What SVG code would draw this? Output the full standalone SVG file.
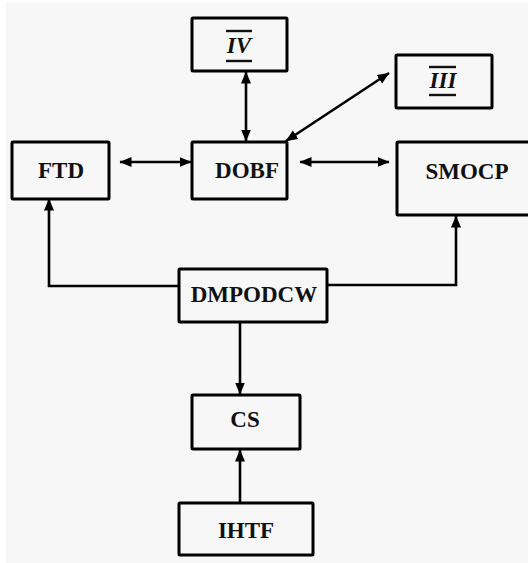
<svg xmlns="http://www.w3.org/2000/svg" width="528" height="563" viewBox="0 0 528 563">
  <style>
    .box { fill: none; stroke: #000; stroke-width: 3; }
    .lbl { font-family: "Liberation Serif", "Times New Roman", serif; font-weight: bold; font-size: 23px; fill: #111; text-anchor: middle; }
    .ital { font-style: italic; }
    .bar { stroke: #111; stroke-width: 2.4; }
    .conn { fill: none; stroke: #000; stroke-width: 2.6; }
  </style>
  <defs>
    <marker id="ah" markerUnits="userSpaceOnUse" markerWidth="14" markerHeight="12" refX="11.5" refY="5" orient="auto-start-reverse">
      <path d="M0,0 L12,5 L0,10 z" fill="#000"/>
    </marker>
  </defs>
  <rect x="0" y="0" width="528" height="563" fill="#ffffff"/>
  <rect x="6" y="2" width="522" height="561" fill="#f7f7f7"/>

  <g id="connectors">
    <line class="conn" x1="246" y1="72" x2="246" y2="141" marker-start="url(#ah)" marker-end="url(#ah)"/>
    <line class="conn" x1="286" y1="141" x2="389" y2="73" marker-start="url(#ah)" marker-end="url(#ah)"/>
    <line class="conn" x1="120" y1="162" x2="191" y2="162" marker-start="url(#ah)" marker-end="url(#ah)"/>
    <line class="conn" x1="300" y1="162" x2="389" y2="162" marker-start="url(#ah)" marker-end="url(#ah)"/>
    <polyline class="conn" points="179,286 49,286 49,199" marker-end="url(#ah)"/>
    <polyline class="conn" points="327,285 456,285 456,216" marker-end="url(#ah)"/>
    <line class="conn" x1="240" y1="322" x2="240" y2="394" marker-end="url(#ah)"/>
    <line class="conn" x1="240" y1="503" x2="240" y2="450" marker-end="url(#ah)"/>
  </g>

  <g id="node-IV">
    <rect class="box" x="192" y="18" width="95" height="53" rx="1"/>
    <line class="bar" x1="226" y1="31" x2="252" y2="31"/>
    <text class="lbl ital" x="239" y="53">IV</text>
    <line class="bar" x1="226" y1="61" x2="252" y2="61"/>
  </g>

  <g id="node-III">
    <rect class="box" x="396" y="55" width="96" height="53" rx="1"/>
    <line class="bar" x1="429" y1="67" x2="456" y2="67"/>
    <text class="lbl ital" x="443" y="88">III</text>
    <line class="bar" x1="429" y1="95" x2="456" y2="95"/>
  </g>

  <g id="node-FTD">
    <rect class="box" x="12" y="142" width="97" height="57" rx="1"/>
    <text class="lbl" x="61" y="178">FTD</text>
  </g>

  <g id="node-DOBF">
    <rect class="box" x="192" y="142" width="95" height="57" rx="1"/>
    <text class="lbl" x="247" y="178">DOBF</text>
  </g>

  <g id="node-SMOCP">
    <rect class="box" x="397" y="142" width="140" height="73" rx="1"/>
    <text class="lbl" x="467" y="179">SMOCP</text>
  </g>

  <g id="node-DMPODCW">
    <rect class="box" x="179" y="269" width="148" height="53" rx="1"/>
    <text class="lbl" x="254" y="302">DMPODCW</text>
  </g>

  <g id="node-CS">
    <rect class="box" x="192" y="395" width="108" height="54" rx="1"/>
    <text class="lbl" x="245" y="427">CS</text>
  </g>

  <g id="node-IHTF">
    <rect class="box" x="179" y="503" width="134" height="52" rx="1"/>
    <text class="lbl" x="246" y="538">IHTF</text>
  </g>
</svg>
